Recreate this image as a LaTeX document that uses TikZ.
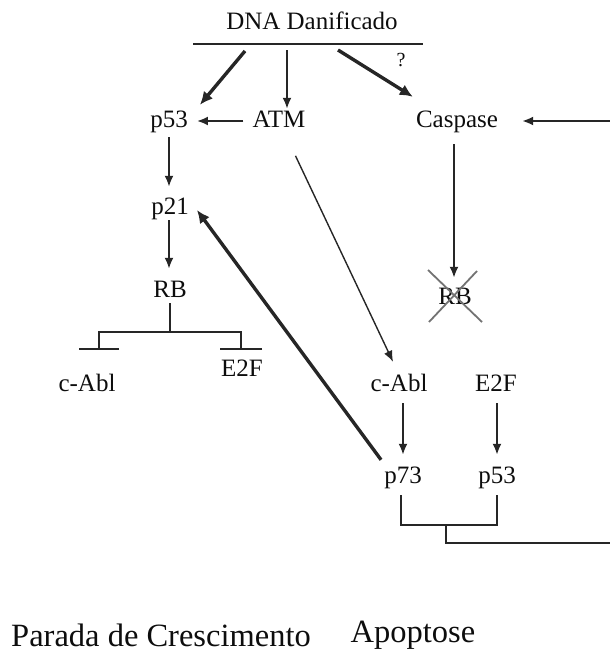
\documentclass[tikz,border=0pt]{standalone}
\usepackage{fontspec}
\setmainfont{Liberation Serif}
\usetikzlibrary{arrows.meta,calc}
\definecolor{LineClr}{rgb}{0.15,0.15,0.15}
\definecolor{TextClr}{rgb}{0.05,0.05,0.05}
\definecolor{CrossClr}{rgb}{0.45,0.45,0.45}

\begin{document}
\begin{tikzpicture}[x=1pt,y=-1pt,
  lbl/.style={font=\fontsize{25}{30}\selectfont,text=TextClr,inner sep=1pt,
    text height=17pt,text depth=5pt},
  big/.style={font=\fontsize{32.5}{38}\selectfont,text=TextClr,inner sep=0pt},
  arr/.style={line width=2pt,color=LineClr,-{Latex[length=11pt,width=9pt]}},
  thick arr/.style={arr,line width=3.4pt,-{Latex[length=13pt,width=12pt]}},
  thin arr/.style={arr,line width=1.4pt},
  link/.style={line width=2pt,color=LineClr},
  cross/.style={line width=1.8pt,color=CrossClr}]
\useasboundingbox (0,0) rectangle (610,653);

\node[lbl] (dna) at (312,23) {DNA Danificado};
\coordinate (dnaL) at (193,44);
\coordinate (dnaR) at (423,44);
\coordinate (d1) at (245,51);
\coordinate (d2) at (287,50);
\coordinate (d3) at (338,50);
\node[lbl,font=\fontsize{20}{24}\selectfont] (qm) at (401,60) {?};

\node[lbl] (p53a) at (169,121) {p53};
\node[lbl] (atm) at (279,121) {ATM};
\node[lbl] (casp) at (457,121) {Caspase};
\node[lbl] (p21) at (170,208) {p21};
\node[lbl] (rb) at (170,291) {RB};
\node[lbl] (cabl1) at (87,385) {c-Abl};
\node[lbl] (e2f1) at (242,370) {E2F};
\node[lbl] (rbx) at (455,298) {RB};
\node[lbl] (cabl2) at (399,385) {c-Abl};
\node[lbl] (e2f2) at (496,385) {E2F};
\node[lbl] (p73) at (403,477) {p73};
\node[lbl] (p53b) at (497,477) {p53};
\node[big] (growth) at (161,635) {Parada de Crescimento};
\node[big] (apop) at (413,635) {Apoptose};

\coordinate (inR) at (610,121);
\coordinate (fork) at (170,332);
\coordinate (t1) at (99,350);
\coordinate (t2) at (241,350);
\coordinate (brk) at (446,525);
\coordinate (outR) at (610,543);

\draw[link] (dnaL) -- (dnaR);
\draw[thick arr] (d1) -- ([xshift=11pt,yshift=4pt]p53a.north east);
\draw[arr] (d2) -- (d2 |- atm.north);
\draw[thick arr] (d3) -- ([xshift=-2pt,yshift=12pt]casp.north west);

\draw[arr,shorten <=8pt,shorten >=8pt] (atm.west) -- (p53a.east);
\draw[arr] (inR) -- ([xshift=23pt]casp.east);
\draw[arr,shorten <=4pt,shorten >=9pt] (p53a.south) -- (p53a.south |- p21.north);
\draw[arr,shorten <=0pt,shorten >=10pt] (p21.south -| p53a) -- (p53a |- rb.north);

\draw[link] (rb.south) -- (fork);
\draw[link,{Bar[width=40pt,line width=2pt]}-{Bar[width=42pt,line width=2pt]}] (t1) -- ++(0,-18) -| (t2);

\draw[arr,shorten <=11pt,shorten >=8pt] ([xshift=-3pt]casp.south) -- ([xshift=-1pt]rbx.north);
\draw[cross] ($(rbx)+(-27,-28)$) -- ($(rbx)+(27,24)$);
\draw[cross] ($(rbx)+(22,-27)$) -- ($(rbx)+(-26,24)$);

\draw[thin arr,shorten <=25pt] (atm) -- ([xshift=-6pt,yshift=11pt]cabl2.north);
\draw[thick arr] ([xshift=-2pt,yshift=5pt]p73.north west) -- ([xshift=7pt,yshift=-2pt]p21.east);

\draw[arr,shorten <=6pt,shorten >=10pt] (cabl2.south -| p73) -- (p73.north);
\draw[arr,shorten <=6pt,shorten >=10pt] (e2f2.south -| p53b) -- (p53b.north);

\draw[link] ([xshift=-2pt,yshift=-6pt]p73.south) |- (brk) -| ([yshift=-6pt]p53b.south);
\draw[link] (brk) |- (outR);

\end{tikzpicture}
\end{document}
